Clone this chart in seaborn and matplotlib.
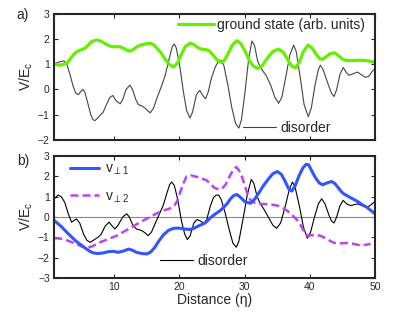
import numpy as np
import pandas as pd
import matplotlib
matplotlib.use("Agg")
import matplotlib.pyplot as plt
import seaborn as sns
from matplotlib.lines import Line2D

# ---------------- data ----------------
top_dis_x = [0.8, 1.3, 2.26, 2.7, 3.2, 3.7, 4.1, 4.5, 4.85, 5.2, 5.5, 5.9, 6.4, 6.7, 7.0, 7.4, 7.9,
             8.3, 8.8, 9.3, 9.75, 10.3, 10.9, 11.3, 11.8, 12.4, 12.8, 13.3, 13.7, 14.3, 14.8, 15.5,
             16.0, 16.6, 17.2, 17.8, 18.4, 18.9, 19.2, 19.5, 20.0, 20.6, 21.1, 21.6, 22.0, 22.6,
             23.1, 23.6, 24.0, 24.4, 24.9, 25.5, 26.0, 26.4, 26.8, 27.4, 28.0, 28.6, 29.1, 29.5,
             30.0, 30.6, 31.1, 31.5, 32.0, 32.7, 33.3, 34.0, 34.6, 35.2, 35.7, 36.3, 36.9, 37.5,
             37.9, 38.5, 39.1, 39.75, 40.2, 40.8, 41.3, 41.6, 42.0, 42.8, 43.3, 43.7, 44.1, 44.6,
             45.1, 45.6, 46.0, 46.6, 47.3, 47.9, 48.5, 49.0, 49.5, 50.0]
top_dis_y = [1.0, 1.07, 1.13, 1.02, 0.6, 0.12, -0.15, -0.21, -0.08, 0.0, -0.12, -0.5, -1.0, -1.18,
             -1.24, -1.15, -1.0, -0.9, -0.6, -0.32, -0.24, -0.45, -0.57, -0.4, 0.0, 0.17, 0.0, -0.4,
             -0.6, -0.66, -0.76, -0.93, -0.75, -0.3, 0.1, 0.55, 1.2, 1.7, 1.8, 1.65, 1.0, -0.1,
             -0.85, -1.13, -0.9, -0.2, -0.04, -0.25, -0.37, -0.1, 0.45, 0.9, 1.12, 1.16, 0.95, 0.2,
             -0.7, -1.35, -1.53, -1.2, -0.2, 1.2, 1.92, 1.75, 1.1, 0.76, 0.55, 0.16, -0.3, -0.55,
             -0.3, 0.5, 1.35, 1.76, 1.5, 0.5, -0.6, -1.08, -0.75, 0.2, 0.8, 0.96, 0.8, 0.2, -0.15,
             -0.28, 0.0, 0.6, 0.87, 0.66, 0.56, 0.62, 0.69, 0.58, 0.48, 0.52, 0.7, 0.83]

gs_x = [0.8, 1.2, 1.65, 2.3, 2.9, 3.4, 4.0, 4.5, 5.0, 5.5, 6.0, 6.6, 7.3, 7.9, 8.6, 9.3, 9.85, 10.4,
        10.9, 11.5, 12.0, 12.4, 12.9, 13.5, 14.2, 14.9, 15.5, 16.0, 16.6, 17.2, 17.8, 18.4, 19.1,
        19.7, 20.3, 20.9, 21.6, 22.1, 22.7, 23.3, 23.7, 24.2, 24.6, 25.1, 25.7, 26.4, 26.9, 27.5,
        28.1, 28.8, 29.4, 30.0, 30.7, 31.3, 32.0, 32.7, 33.5, 34.3, 35.2, 35.9, 36.6, 37.2, 37.8,
        38.4, 39.0, 39.7, 40.3, 41.0, 41.5, 41.9, 42.4, 43.1, 43.8, 44.4, 45.0, 45.6, 46.5, 47.8,
        49.0, 50.0]
gs_y = [1.03, 0.98, 0.96, 1.0, 1.09, 1.27, 1.45, 1.53, 1.58, 1.63, 1.76, 1.91, 1.96, 1.92, 1.82,
        1.72, 1.69, 1.7, 1.69, 1.62, 1.55, 1.52, 1.58, 1.7, 1.77, 1.81, 1.83, 1.78, 1.62, 1.44, 1.2,
        1.0, 0.89, 1.05, 1.4, 1.7, 1.83, 1.8, 1.68, 1.6, 1.59, 1.57, 1.52, 1.38, 1.18, 1.07, 1.15,
        1.45, 1.76, 1.93, 1.82, 1.55, 1.15, 0.93, 0.83, 0.95, 1.25, 1.5, 1.6, 1.48, 1.18, 0.93,
        0.85, 1.1, 1.5, 1.76, 1.65, 1.38, 1.22, 1.19, 1.28, 1.42, 1.45, 1.33, 1.2, 1.15, 1.15, 1.16,
        1.13, 1.07]

bot_dis_x = [0.8, 1.4, 1.9, 2.4, 2.9, 3.45, 3.8, 4.2, 4.7, 5.3, 5.8, 6.3, 6.8, 7.5, 8.0, 8.6, 9.2,
             9.6, 10.1, 10.6, 11.3, 11.9, 12.3, 12.9, 13.4, 14.2, 14.7, 15.2, 15.7, 16.3, 17.0,
             17.5, 18.1, 18.5, 18.8, 19.2, 19.7, 20.3, 20.8, 21.2, 21.6, 22.2, 22.7, 23.2, 23.8,
             24.2, 24.7, 25.2, 25.6, 26.0, 26.4, 27.0, 27.6, 28.2, 28.7, 29.1, 29.8, 30.4, 31.0,
             31.4, 31.9, 32.4, 33.0, 33.6, 34.3, 34.9, 35.5, 36.2, 36.8, 37.3, 37.7, 38.4, 39.0,
             39.6, 40.1, 40.7, 41.3, 41.8, 42.3, 42.9, 43.3, 43.7, 44.1, 44.6, 45.1, 45.7, 46.3,
             46.8, 47.3, 48.0, 48.8, 49.3, 50.0]
bot_dis_y = [0.89, 1.08, 0.98, 0.72, 0.2, -0.26, -0.18, -0.1, -0.3, -0.85, -1.15, -1.25, -1.15,
             -1.0, -0.85, -0.45, -0.26, -0.42, -0.59, -0.4, 0.0, 0.15, 0.0, -0.45, -0.59, -0.67,
             -0.78, -0.92, -0.75, -0.3, 0.2, 0.56, 1.2, 1.6, 1.71, 1.55, 0.9, -0.2, -0.85, -1.11,
             -0.95, -0.3, -0.13, -0.2, -0.34, -0.1, 0.5, 0.95, 1.07, 1.08, 0.85, 0.2, -0.6, -1.3,
             -1.49, -1.2, 0.0, 1.1, 1.84, 1.65, 1.0, 0.64, 0.35, 0.0, -0.4, -0.56, -0.3, 0.5, 1.3,
             1.71, 1.5, 0.5, -0.5, -1.05, -0.75, 0.0, 0.65, 0.89, 0.65, 0.1, -0.2, -0.3, 0.0, 0.55,
             0.81, 0.62, 0.56, 0.6, 0.64, 0.55, 0.48, 0.58, 0.76]

v1_x = [0.8, 1.8, 2.7, 3.5, 4.2, 5.0, 5.75, 6.3, 6.8, 7.5, 8.3, 9.1, 9.85, 10.6, 11.4, 12.2, 12.8,
        13.4, 14.2, 15.0, 15.6, 16.2, 16.8, 17.5, 18.3, 19.1, 19.9, 20.6, 21.6, 22.2, 22.7, 23.2,
        23.7, 24.2, 24.7, 25.5, 26.2, 26.8, 27.3, 27.8, 28.3, 28.8, 29.4, 30.0, 30.9, 31.6, 32.2,
        32.9, 33.6, 34.3, 35.0, 35.6, 36.2, 36.7, 37.2, 37.7, 38.3, 38.9, 39.4, 39.8, 40.3, 40.8,
        41.4, 41.9, 42.7, 43.3, 43.8, 44.3, 44.8, 45.2, 46.2, 47.3, 48.0, 48.7, 49.4, 50.0]
v1_y = [-0.18, -0.45, -0.75, -1.0, -1.21, -1.4, -1.58, -1.7, -1.77, -1.8, -1.77, -1.71, -1.69,
        -1.74, -1.68, -1.58, -1.64, -1.74, -1.8, -1.82, -1.72, -1.5, -1.2, -0.9, -0.66, -0.56,
        -0.55, -0.59, -0.62, -0.56, -0.48, -0.4, -0.34, -0.22, -0.05, 0.15, 0.3, 0.48, 0.65, 0.88,
        1.05, 1.1, 0.95, 0.75, 0.67, 0.9, 1.2, 1.55, 1.85, 2.12, 2.23, 2.1, 1.75, 1.4, 1.27, 1.5,
        2.0, 2.4, 2.58, 2.56, 2.25, 1.95, 1.68, 1.58, 1.68, 1.74, 1.65, 1.45, 1.25, 1.13, 0.95,
        0.76, 0.6, 0.48, 0.3, 0.15]

v2_x = [0.8, 1.6, 2.4, 3.3, 4.2, 5.0, 5.75, 6.6, 7.8, 9.0, 10.4, 11.6, 12.9, 14.2, 15.5, 16.5, 17.5,
        18.4, 19.1, 19.6, 20.1, 20.6, 21.1, 21.7, 22.7, 23.5, 24.2, 24.8, 25.4, 26.0, 26.5, 27.1,
        27.7, 28.3, 28.7, 29.1, 29.6, 30.1, 30.5, 30.9, 31.5, 32.4, 33.7, 35.0, 35.8, 36.5, 37.3,
        38.1, 38.7, 39.2, 39.6, 40.3, 41.1, 41.8, 42.4, 43.1, 43.7, 44.6, 45.75, 46.6, 47.5, 48.4,
        49.3]
v2_y = [-1.05, -1.06, -1.11, -1.22, -1.33, -1.45, -1.53, -1.45, -1.25, -1.1, -0.92, -0.7, -0.46,
        -0.22, 0.0, 0.17, 0.31, 0.4, 0.5, 0.75, 1.2, 1.65, 2.0, 2.05, 1.96, 1.88, 1.79, 1.6, 1.42,
        1.36, 1.38, 1.6, 2.0, 2.35, 2.45, 2.3, 1.95, 1.45, 1.05, 0.81, 0.7, 0.64, 0.62, 0.56, 0.44,
        0.31, 0.08, -0.18, -0.48, -0.78, -0.92, -0.9, -0.89, -0.95, -1.05, -1.18, -1.28, -1.3,
        -1.28, -1.32, -1.38, -1.38, -1.33]

x_ticks = [10, 20, 30, 40, 50]
top_yticks = [-2, -1, 0, 1, 2, 3]
bot_yticks = [-3, -2, -1, 0, 1, 2, 3]

# ---------------- style ----------------
sns.set_style("ticks")
plt.rcParams['font.family'] = ['Liberation Sans', 'DejaVu Sans']
plt.rcParams['mathtext.fontset'] = 'custom'
plt.rcParams['mathtext.rm'] = 'Liberation Sans'
plt.rcParams['mathtext.it'] = 'Liberation Sans'
plt.rcParams['axes.linewidth'] = 1.5

GREEN = '#66ee00'
BLUE = '#3355ff'
PURPLE = '#bb44ee'

fig = plt.figure(figsize=(4.15, 3.13), dpi=100)
ax1 = fig.add_axes([0.130, 0.553, 0.774, 0.403])
ax2 = fig.add_axes([0.130, 0.112, 0.774, 0.390])

# top panel
sns.lineplot(x=top_dis_x, y=top_dis_y, ax=ax1, color='#444444', lw=0.8, sort=False)
sns.lineplot(x=gs_x, y=gs_y, ax=ax1, color=GREEN, lw=2.3, sort=False)

# bottom panel
ax2.axhline(0, color='#888888', lw=0.8)
sns.lineplot(x=bot_dis_x, y=bot_dis_y, ax=ax2, color='black', lw=0.8, sort=False)
sns.lineplot(x=v2_x, y=v2_y, ax=ax2, color=PURPLE, lw=1.8, sort=False)
ax2.lines[-1].set_dashes((3.2, 1.6))
sns.lineplot(x=v1_x, y=v1_y, ax=ax2, color=BLUE, lw=2.2, sort=False)

for ax, yt, yl in [(ax1, top_yticks, (-2, 3)), (ax2, bot_yticks, (-3, 3))]:
    ax.set_xlim(0.75, 50)
    ax.set_ylim(*yl)
    ax.set_xticks(x_ticks)
    ax.set_yticks(yt)
    ax.tick_params(direction='in', top=True, right=True, length=3, width=0.8,
                   labelsize=7.5, pad=3)
    for s in ax.spines.values():
        s.set_linewidth(1.5)
    ax.set_ylabel(r'V/E$_{\rm c}$', fontsize=10, labelpad=2)

ax1.set_xticklabels([])
ax1.set_xlabel('')
ax2.set_xlabel('Distance (η)', fontsize=10, labelpad=1)

# legends
leg1 = ax1.legend(handles=[Line2D([], [], color=GREEN, lw=2.3)],
                  labels=['ground state (arb. units)'], loc='center left',
                  bbox_to_anchor=(0.386, 0.913), frameon=False, fontsize=10,
                  handlelength=2.6, handletextpad=0.2, borderpad=0, borderaxespad=0)
ax1.add_artist(leg1)
ax1.legend(handles=[Line2D([], [], color='#444444', lw=0.8)], labels=['disorder'],
           loc='center left', bbox_to_anchor=(0.589, 0.095), frameon=False, fontsize=10,
           handlelength=2.4, handletextpad=0.3, borderpad=0, borderaxespad=0)

lv = ax2.legend(handles=[Line2D([], [], color=BLUE, lw=2.2),
                         Line2D([], [], color=PURPLE, lw=1.8, dashes=(3.2, 1.6))],
                labels=[r'v$_{\perp1}$', r'v$_{\perp2}$'], loc='upper left',
                bbox_to_anchor=(0.05, 0.95), frameon=False, fontsize=10,
                handlelength=2.1, handletextpad=0.4, borderpad=0, borderaxespad=0,
                labelspacing=0.85)
ax2.add_artist(lv)
ax2.legend(handles=[Line2D([], [], color='black', lw=0.8)], labels=['disorder'],
           loc='center left', bbox_to_anchor=(0.33, 0.139), frameon=False, fontsize=10,
           handlelength=2.4, handletextpad=0.3, borderpad=0, borderaxespad=0)

fig.text(0.055, 0.952, 'a)', fontsize=10, ha='center', va='center')
fig.text(0.055, 0.485, 'b)', fontsize=10, ha='center', va='center')

fig.savefig('out.png', dpi=100)
